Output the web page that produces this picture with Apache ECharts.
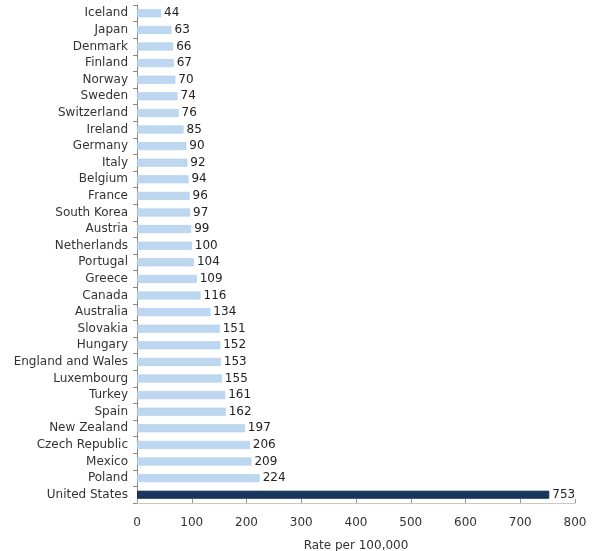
<!DOCTYPE html>
<html>
<head>
<meta charset="utf-8">
<script src="https://cdn.jsdelivr.net/npm/echarts@6/dist/echarts.min.js"></script>
<style>html,body{margin:0;padding:0;background:#fff}#c{width:600px;height:551px}</style>
</head>
<body>
<div id="c"></div>
<script>
const countries = ["Iceland","Japan","Denmark","Finland","Norway","Sweden","Switzerland","Ireland","Germany","Italy","Belgium","France","South Korea","Austria","Netherlands","Portugal","Greece","Canada","Australia","Slovakia","Hungary","England and Wales","Luxembourg","Turkey","Spain","New Zealand","Czech Republic","Mexico","Poland","United States"];
const rates = [44,63,66,67,70,74,76,85,90,92,94,96,97,99,100,104,109,116,134,151,152,153,155,161,162,197,206,209,224,753];
const xTicks = [0,100,200,300,400,500,600,700,800];
const highlight = "United States";

const chart = echarts.init(document.getElementById('c'));
const font = 'DejaVu Sans, Verdana, sans-serif';
chart.setOption({
  animation: false,
  grid: {left: 137, right: 25, top: 5, bottom: 48, containLabel: false, outerBoundsMode: 'none'},
  xAxis: {
    type: 'value', min: xTicks[0], max: xTicks[xTicks.length-1], interval: 100,
    name: 'Rate per 100,000', nameLocation: 'middle', nameGap: 37,
    nameTextStyle: {fontFamily: font, fontSize: 12, color: '#333'},
    axisLine: {show: true, lineStyle: {color: '#c8c8c8'}},
    axisTick: {show: true, inside: true, length: 4, lineStyle: {color: '#999'}},
    axisLabel: {fontFamily: font, fontSize: 12, color: '#333', margin: 14},
    splitLine: {show: false}
  },
  yAxis: {
    type: 'category', inverse: true, data: countries,
    axisLine: {show: true, lineStyle: {color: '#888'}},
    axisTick: {show: true, length: 4, lineStyle: {color: '#888'}},
    axisLabel: {fontFamily: font, fontSize: 12, color: '#333', margin: 9}
  },
  series: [{
    type: 'bar', barWidth: 8,
    data: rates.map((v, i) => ({
      value: v,
      itemStyle: countries[i] === highlight
        ? {color: '#17375e', borderColor: '#0f2a4a', borderWidth: 1}
        : {color: '#bdd7f0', borderColor: '#a8c8e8', borderWidth: 0.5}
    })),
    label: {show: true, position: 'right', distance: 3, fontFamily: font, fontSize: 12, color: '#222'}
  }]
});
</script>
</body>
</html>
